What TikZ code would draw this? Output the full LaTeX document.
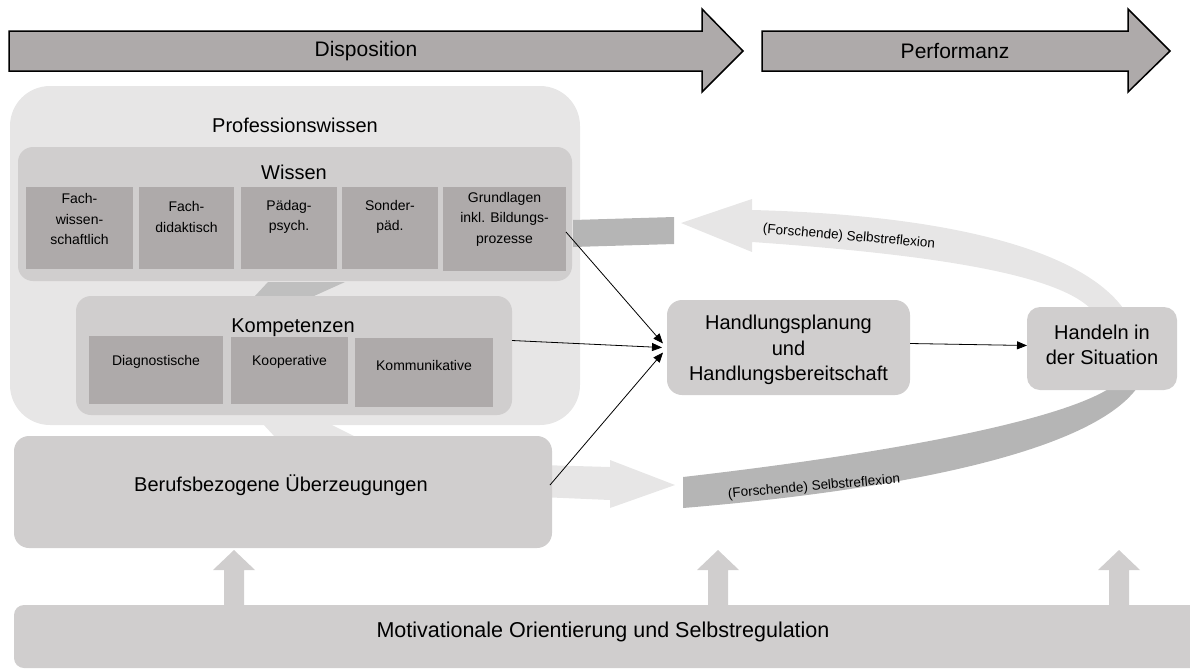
\documentclass[tikz,border=0pt]{standalone}
\usepackage{fontspec}
\setmainfont{Liberation Sans}
\usetikzlibrary{arrows.meta,calc}
\definecolor{paleg}{HTML}{E7E6E6}
\definecolor{midg}{HTML}{D0CECE}
\definecolor{darkg}{HTML}{AEAAAA}
\definecolor{bandg}{HTML}{B5B5B5}
\definecolor{parag}{HTML}{BFBFBF}

\begin{document}
\begin{tikzpicture}[x=1pt,y=-1pt,
  box/.style={rectangle, draw=none, inner sep=0pt, outer sep=0pt},
  headline/.style={font=\fontsize{21}{25}\selectfont},
  big/.style={font=\fontsize{20}{25.5}\selectfont, align=center, inner sep=0pt},
  small/.style={font=\fontsize{14}{20.5}\selectfont, align=center, inner sep=0pt},
  bandtext/.style={font=\fontsize{13.5}{16}\selectfont, inner sep=0pt},
  conn/.style={draw=black, line width=0.8pt, -{Triangle[length=10pt,width=8pt]}},
  phasearrow/.style={fill=darkg, draw=black, line width=1.5pt, line join=miter}
]
\useasboundingbox (0,0) rectangle (1190,670);

% phase arrows along the top
\path[phasearrow] (9,31) -- (702,31) -- (702,9) -- (743,51) -- (702,92) -- (702,71) -- (9,71) -- cycle;
\node[headline] (disp) at (366,51) {Disposition};
\path[phasearrow] (762,31) -- (1128,31) -- (1128,9) -- (1170,51) -- (1128,92) -- (1128,71) -- (762,71) -- cycle;
\node[headline] (perf) at (955,51) {Performanz};

% light link between the knowledge block and the beliefs block
\fill[paleg] (262,423) -- (328,423) -- (358,438) -- (276,438) -- cycle;

% Professionswissen block
\node[box, fill=paleg, rounded corners=40pt, minimum width=570pt, minimum height=339pt] (prof) at (295,255.5) {};
\node[big] (proft) at (295,125) {Professionswissen};

% link between Wissen and Kompetenzen
\fill[parag] (268,282) -- (345,282) -- (314,296) -- (255,296) -- cycle;

% Wissen
\node[box, fill=midg, rounded corners=15pt, minimum width=554pt, minimum height=134pt] (wissen) at (295,214) {};
\node[big] (wissent) at (294,172) {Wissen};
\node[box, fill=darkg, minimum width=107pt, minimum height=82pt] (fw) at (79.5,228) {};
\node[box, fill=darkg, minimum width=95pt, minimum height=82pt] (fd) at (186.5,228) {};
\node[box, fill=darkg, minimum width=96pt, minimum height=82pt] (pp) at (289,228) {};
\node[box, fill=darkg, minimum width=96pt, minimum height=82pt] (sp) at (390,228) {};
\node[box, fill=darkg, minimum width=123pt, minimum height=84pt] (gl) at (504.5,229) {};
\node[small] (fwt) at (79.5,219) {Fach-\\wissen-\\schaftlich};
\node[small] (fdt) at (186.5,217) {Fach-\\didaktisch};
\node[small] (ppt) at (289,217) {Pädag-\\psych.};
\node[small] (spt) at (390,217) {Sonder-\\päd.};
\node[small] (glt) at (504.5,219) {Grundlagen\\inkl. Bildungs-\\prozesse};

% Kompetenzen
\node[box, fill=midg, rounded corners=15pt, minimum width=436pt, minimum height=119pt] (komp) at (294,355.5) {};
\node[big] (kompt) at (293,328) {Kompetenzen};
\node[box, fill=darkg, minimum width=134pt, minimum height=68pt] (diag) at (156,370) {};
\node[box, fill=darkg, minimum width=117pt, minimum height=67pt] (koop) at (289.5,370.5) {};
\node[box, fill=darkg, minimum width=138pt, minimum height=69pt] (komm) at (424,372.5) {};
\node[small] (diagt) at (156,362) {Diagnostische};
\node[small] (koopt) at (289.5,362) {Kooperative};
\node[small] (kommt) at (424,365) {Kommunikative};

% reflection strip next to Grundlagen
\fill[bandg] (573,220) -- (674,217) -- (674,244) -- (573,247) -- cycle;

% light arrow out of the beliefs block
\fill[paleg] (540,465) -- (610,467) -- (610,460) -- (675,485) -- (610,508) -- (610,500) -- (540,497) -- cycle;

% Berufsbezogene Ueberzeugungen
\node[box, fill=midg, rounded corners=15pt, minimum width=538pt, minimum height=112pt] (beruf) at (283,492) {};
\node[big] (beruft) at (281,485) {Berufsbezogene Überzeugungen};

% upper reflection arc (back to knowledge)
\fill[paleg] (1123,308) .. controls (1080,250) and (950,215) .. (752,210) -- (752,199) -- (681,223) -- (752,252) -- (752,242) .. controls (940,255) and (1055,275) .. (1090,308) -- cycle;
\node[bandtext, rotate=-5] (topreft) at (849,237) {(Forschende) Selbstreflexion};

% lower reflection arc
\fill[bandg] (683,477) .. controls (900,452) and (1060,420) .. (1110,388) -- (1137,388) .. controls (1090,452) and (900,490) .. (683,508) -- cycle;
\node[bandtext, rotate=5] (botreft) at (814,487) {(Forschende) Selbstreflexion};

% action boxes
\node[box, fill=midg, rounded corners=15pt, minimum width=243pt, minimum height=95pt] (hp) at (788.5,347.5) {};
\node[big] (hpt) at (788.5,350) {Handlungsplanung\\und\\Handlungsbereitschaft};
\node[box, fill=midg, rounded corners=13pt, minimum width=150pt, minimum height=83pt] (hd) at (1102,348.5) {};
\node[big] (hdt) at (1102,345) {Handeln in\\der Situation};

% motivation base and upward arrows
\node[box, fill=midg, rounded corners=10pt, minimum width=1200pt, minimum height=63pt] (motiv) at (614,636.5) {};
\node[font=\fontsize{21.5}{26}\selectfont, inner sep=0pt] (motivt) at (603,632) {Motivationale Orientierung und Selbstregulation};
\foreach \c/\n in {234/upa, 718/upb, 1119/upc} {
  \fill[midg] (\c-10,606) -- (\c-10,570) -- (\c-21,570) -- (\c,550) -- (\c+21,570) -- (\c+10,570) -- (\c+10,606) -- cycle;
}

% connectors
\draw[conn] ($(gl.east)+(0,3)$) -- ($(hp.west)+(-4,-4)$);
\draw[conn] ($(komp.east)+(0,-15)$) -- ($(hp.west)+(-5,0)$);
\draw[conn] ($(beruf.east)+(-2,-7)$) -- ($(hp.west)+(-4,5)$);
\draw[conn] ($(hp.east)+(0,-4)$) -- ($(hd.west)+(0,-3)$);
\end{tikzpicture}
\end{document}
